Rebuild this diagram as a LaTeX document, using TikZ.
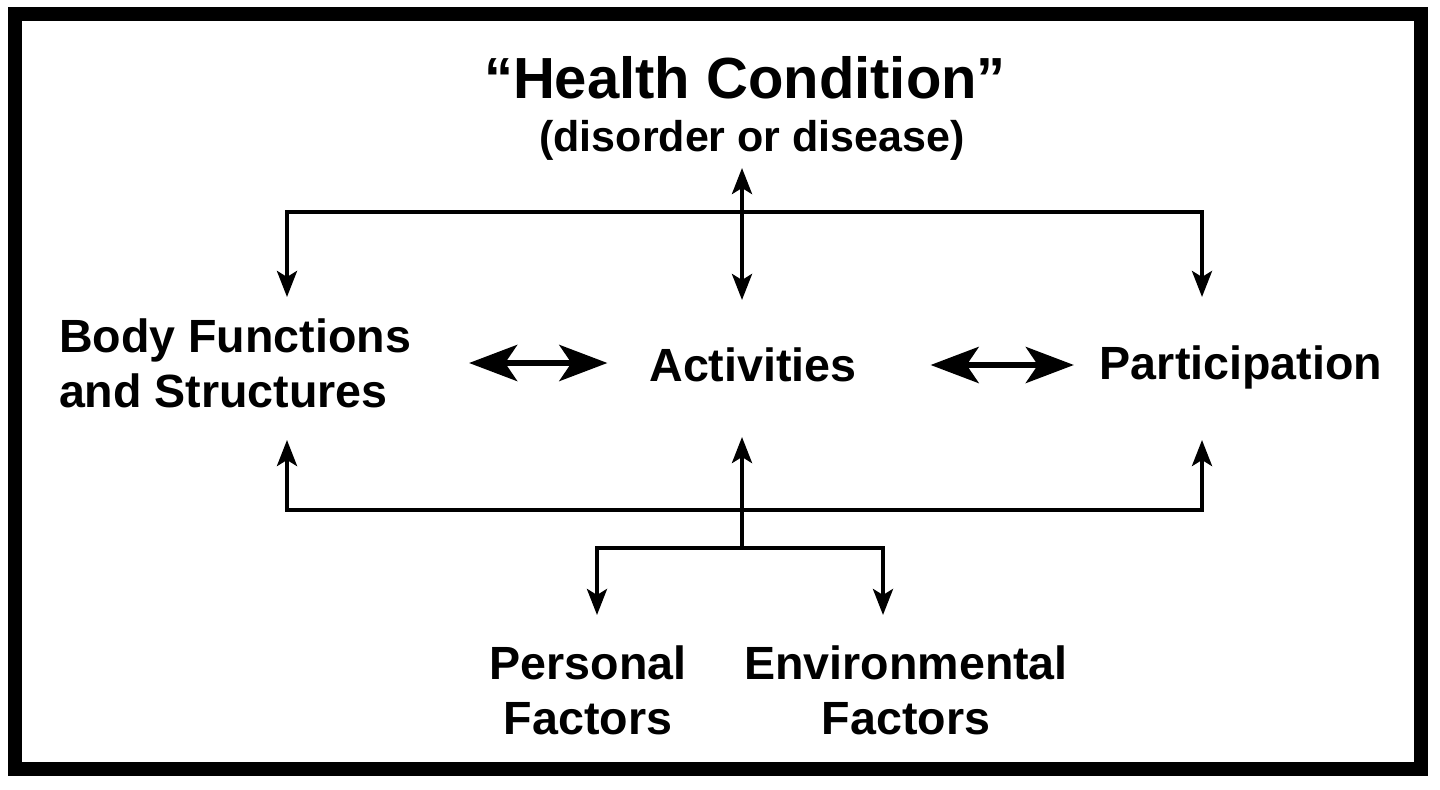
\documentclass[tikz,border=0pt]{standalone}
\usepackage{fontspec}
\setmainfont{Liberation Sans}
\usetikzlibrary{positioning, arrows.meta}

\begin{document}
\begin{tikzpicture}[x=0.5pt, y=0.5pt, line width=2pt,
    >={Stealth[length=13pt, width=10pt, inset=3pt]},
    box text/.style={font=\bfseries\fontsize{23.3}{27.5}\selectfont, align=center, inner sep=0pt},
    big arrow/.style={line width=3pt, {Stealth[length=24pt, width=18pt, inset=6pt]}-{Stealth[length=24pt, width=18pt, inset=6pt]}}]
    % Frame
    \useasboundingbox (0,0) rectangle (1440,789);
    \draw[line width=7pt] (14.5,20) rectangle (1421,774.5);

    % Top: health condition
    \node[box text, font=\bfseries\fontsize{29}{34}\selectfont] (hc) at (745,711) {``Health Condition''};
    \node[box text, font=\bfseries\fontsize{21.5}{26}\selectfont] (dis) at (752,649) {(disorder or disease)};

    % Middle row
    \node[box text, align=left, anchor=west] (bf) at (57,426) {Body Functions\\and Structures};
    \node[box text] (ac) at (753,424) {Activities};
    \node[box text] (pa) at (1241,422) {Participation};

    % Bottom row
    \node[box text] (pf) at (588,99) {Personal\\Factors};
    \node[box text] (ef) at (906,99) {Environmental\\Factors};

    % Connector ends
    \coordinate (hcTip) at (742,621);
    \coordinate (topJoin) at (742,577);
    \coordinate (bfTop) at (287,492);
    \coordinate (acTop) at (742,489);
    \coordinate (paTop) at (1202,492);
    \coordinate (bfBot) at (287,349);
    \coordinate (acBot) at (742,352);
    \coordinate (paBot) at (1202,349);
    \coordinate (botJoin) at (742,279);
    \coordinate (pfJoin) at (742,241);
    \coordinate (pfTop) at (597,174);
    \coordinate (efTop) at (883,174);

    % Links
    \draw[<->] (bfTop) |- (topJoin) -| (paTop);
    \draw[<->] (hcTip) -- (acTop);
    \draw[<->] (bfBot) |- (botJoin) -| (paBot);
    \draw[->] (pfJoin) -- (acBot);
    \draw[<->] (pfTop) |- (pfJoin) -| (efTop);

    % Middle double arrows
    \draw[big arrow, shorten <=28pt, shorten >=20pt] (bf.east) -- (bf.east -| ac.west);
    \draw[big arrow, shorten <=36pt, shorten >=12pt] (ac.east) -- (ac.east -| pa.west);
\end{tikzpicture}
\end{document}
